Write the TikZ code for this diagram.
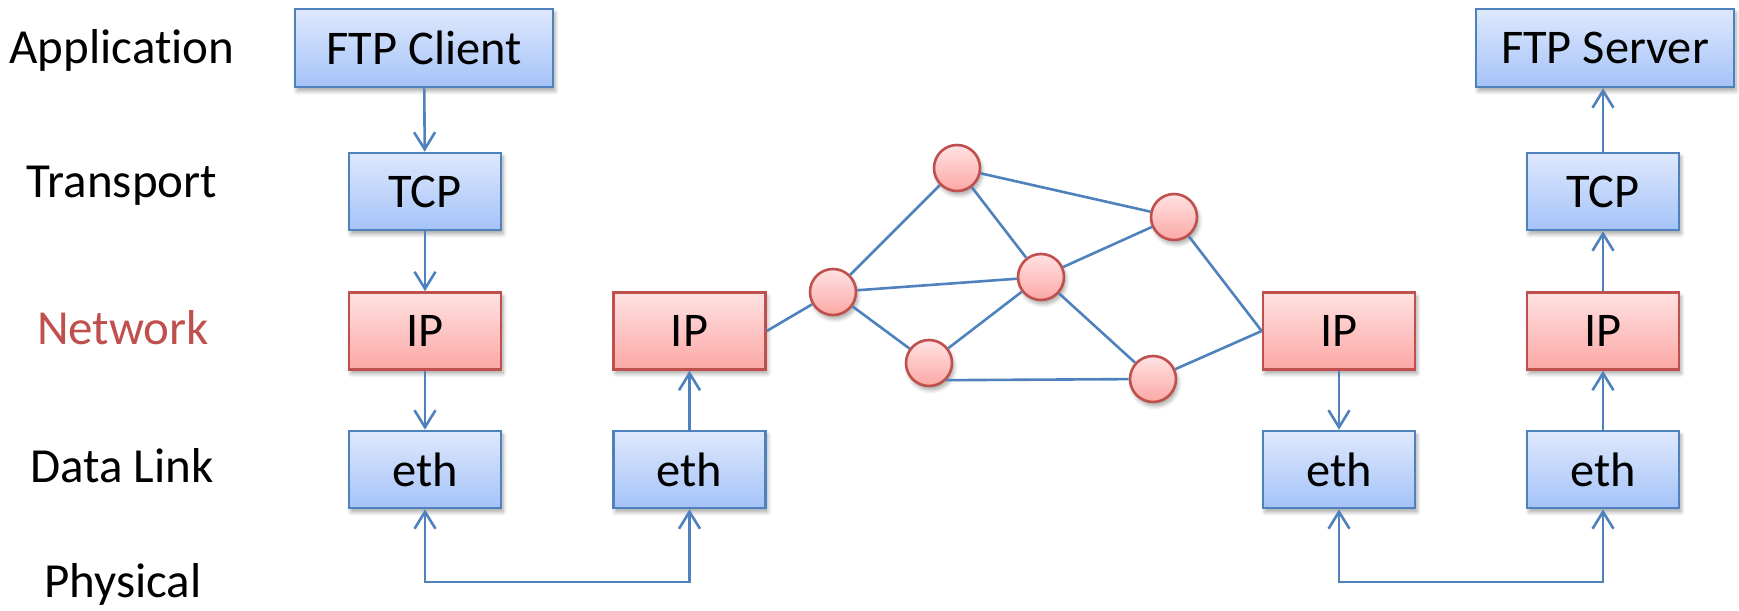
\documentclass[tikz,border=0pt]{standalone}
\usepackage{fontspec}
\setmainfont{Carlito}[Ligatures=NoCommon]
\usetikzlibrary{arrows.meta,shadows.blur}

\definecolor{linkblue}{RGB}{79,129,189}
\definecolor{boxred}{RGB}{192,80,77}
\definecolor{bluetop}{RGB}{222,232,252}
\definecolor{bluebot}{RGB}{165,195,249}
\definecolor{redtop}{RGB}{255,226,226}
\definecolor{redbot}{RGB}{251,168,165}

\tikzset{
  shadowed/.style={blur shadow={shadow xshift=1pt,shadow yshift=-2pt,
      shadow blur steps=6,shadow blur radius=2pt,shadow opacity=35}},
  layerbox/.style={draw=linkblue,line width=1.3pt,top color=bluetop,bottom color=bluebot,
      minimum width=76pt,minimum height=38.5pt,inner sep=0pt,shadowed,
      font=\fontsize{24.2}{29}\selectfont},
  widebox/.style={layerbox,minimum width=129pt,minimum height=39pt},
  ipbox/.style={layerbox,draw=boxred,top color=redtop,bottom color=redbot},
  router/.style={circle,draw=boxred,line width=1.3pt,top color=redtop,bottom color=redbot,
      minimum size=23pt,inner sep=0pt,shadowed},
  layername/.style={font=\fontsize{24.5}{29}\selectfont,inner sep=0pt},
  link/.style={draw=linkblue,line width=1.3pt},
  flow/.style={link,-{Straight Barb[length=8.5pt,width=10.5pt,line width=1.3pt]}},
  twoway/.style={link,{Straight Barb[length=8.5pt,width=10.5pt,line width=1.3pt]}-{Straight Barb[length=8.5pt,width=10.5pt,line width=1.3pt]}},
}

\begin{document}
\begin{tikzpicture}[x=0.5pt,y=0.5pt]
\useasboundingbox (0,0) rectangle (1739,610);

% layer names
\node[layername] (lapp)  at (122,560) {Application};
\node[layername] (ltrn)  at (122,424) {Transport};
\node[layername,text=boxred] (lnet) at (123,282) {Network};
\node[layername] (llnk)  at (122,144) {Data Link};
\node[layername] (lphy)  at (123,26)  {Physical};

% client stack
\node[widebox] (ftpc) at (424,562) {FTP Client};
\node[layerbox] (tcpa) at (425,418.5) {TCP};
\node[ipbox]    (ipa)  at (425,279) {IP};
\node[layerbox] (etha) at (425,140.5) {eth};

% first router
\node[ipbox]    (ipb)  at (689.5,279) {IP};
\node[layerbox] (ethb) at (689.5,140.5) {eth};

% last router
\node[ipbox]    (ipc)  at (1339,279) {IP};
\node[layerbox] (ethc) at (1339,140.5) {eth};

% server stack
\node[widebox]  (ftps) at (1605,562) {FTP Server};
\node[layerbox] (tcpd) at (1603,418.5) {TCP};
\node[ipbox]    (ipd)  at (1603,279) {IP};
\node[layerbox] (ethd) at (1603,140.5) {eth};

% the network cloud
\node[router] (r1) at (833,318) {};
\node[router] (r2) at (957,442) {};
\node[router] (r3) at (1174,393) {};
\node[router] (r4) at (1041,333) {};
\node[router] (r5) at (929,247) {};
\node[router] (r6) at (1153,231) {};

\draw[link] (ipb.east) -- (r1);
\draw[link] (r1) -- (r2);
\draw[link] (r1) -- (r4);
\draw[link] (r1) -- (r5);
\draw[link] (r2) -- (r4);
\draw[link] (r2) -- (r3);
\draw[link] (r3) -- (r4);
\draw[link] (r4) -- (r5);
\draw[link] (r4) -- (r6);
\draw[link] (r5.-45) -- (r6);
\draw[link] (r3) -- (ipc.west);
\draw[link] (r6) -- (ipc.west);

% vertical flows
\draw[flow] (ftpc) -- (tcpa);
\draw[flow] (tcpa) -- (ipa);
\draw[flow] (ipa) -- (etha);
\draw[flow] (ethb) -- (ipb);
\draw[flow] (ipc) -- (ethc);
\draw[flow] (ethd) -- (ipd);
\draw[flow] (ipd) -- (tcpd);
\draw[flow] (tcpd) -- (ftps.south -| tcpd);

% physical links
\coordinate (wireab) at (557,28);
\coordinate (wirecd) at (1471,28);
\draw[twoway] (etha.south) -- (etha.south |- wireab) -| (ethb.south);
\draw[twoway] (ethc.south) -- (ethc.south |- wirecd) -| (ethd.south);
\end{tikzpicture}
\end{document}
